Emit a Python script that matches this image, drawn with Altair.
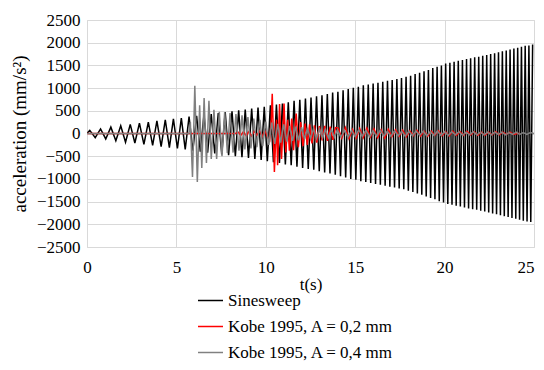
import altair as alt
import pandas as pd

# ---- Sinesweep: alternating peak times (s) and peak accelerations (mm/s^2)
sweep_t = [0.0,
 0.155, 0.460, 0.758, 1.049, 1.334, 1.613, 1.887, 2.155, 2.419, 2.677,
 2.932, 3.182, 3.429, 3.671, 3.910, 4.146, 4.378, 4.607, 4.833, 5.056,
 5.276, 5.493, 5.708, 5.920, 6.130, 6.337, 6.542, 6.745, 6.946, 7.145,
 7.342, 7.536, 7.729, 7.920, 8.110, 8.297, 8.483, 8.667, 8.850, 9.031,
 9.210, 9.388, 9.565, 9.740, 9.914, 10.086, 10.257, 10.427, 10.595, 10.763,
 10.929, 11.094, 11.258, 11.420, 11.582, 11.742, 11.902, 12.060, 12.217, 12.374,
 12.529, 12.683, 12.837, 12.989, 13.141, 13.292, 13.441, 13.590, 13.738, 13.886,
 14.032, 14.178, 14.323, 14.467, 14.610, 14.752, 14.894, 15.035, 15.176, 15.315,
 15.454, 15.592, 15.730, 15.867, 16.003, 16.138, 16.273, 16.407, 16.541, 16.674,
 16.806, 16.938, 17.069, 17.200, 17.330, 17.460, 17.589, 17.717, 17.845, 17.972,
 18.099, 18.225, 18.351, 18.476, 18.601, 18.725, 18.849, 18.972, 19.095, 19.217,
 19.338, 19.460, 19.581, 19.701, 19.821, 19.940, 20.059, 20.178, 20.296, 20.414,
 20.531, 20.648, 20.765, 20.881, 20.997, 21.112, 21.227, 21.341, 21.455, 21.569,
 21.682, 21.795, 21.908, 22.020, 22.132, 22.244, 22.355, 22.466, 22.576, 22.686,
 22.796, 22.905, 23.014, 23.123, 23.231, 23.339, 23.447, 23.554, 23.662, 23.768,
 23.875, 23.981, 24.087, 24.192, 24.298, 24.402, 24.507, 24.611, 24.715, 24.819,
 24.923]
sweep_a = [0,
 70, -90, 100, -120, 140, -160, 170, -190, 200, -210,
 230, -240, 250, -260, 280, -290, 300, -310, 320, -330,
 340, -350, 370, -380, 390, -400, 410, -420, 430, -440,
 450, -460, 470, -480, 490, -500, 510, -520, 530, -540,
 550, -560, 570, -580, 590, -610, 620, -630, 640, -650,
 660, -680, 690, -700, 720, -730, 740, -760, 770, -780,
 790, -800, 820, -830, 840, -860, 870, -880, 900, -910,
 920, -940, 950, -970, 980, -1000, 1010, -1020, 1030, -1050,
 1060, -1070, 1080, -1090, 1100, -1110, 1120, -1130, 1140, -1150,
 1160, -1170, 1180, -1190, 1200, -1210, 1220, -1230, 1250, -1260,
 1270, -1290, 1310, -1320, 1340, -1350, 1370, -1390, 1400, -1420,
 1440, -1450, 1470, -1490, 1500, -1520, 1540, -1550, 1560, -1570,
 1580, -1590, 1600, -1610, 1620, -1630, 1640, -1650, 1660, -1670,
 1680, -1680, 1690, -1700, 1710, -1720, 1730, -1740, 1750, -1760,
 1770, -1780, 1790, -1800, 1810, -1820, 1830, -1840, 1850, -1860,
 1870, -1880, 1890, -1900, 1910, -1920, 1930, -1940, 1940, -1950,
 1960]

# ---- Kobe 1995, A = 0,2 mm (red)
kobe02_t = [0.0, 8.30, 8.45, 8.60, 8.75, 8.90, 9.05, 9.20, 9.35, 9.50, 9.65, 9.80, 9.95, 10.10,
 10.22, 10.30, 10.36, 10.48, 10.60, 10.66, 10.77, 10.88, 11.02, 11.12, 11.22, 11.32,
 11.45, 11.55, 11.70, 11.82, 11.95, 12.08, 12.20, 12.32, 12.45, 12.58, 12.72, 12.85,
 13.00, 13.15, 13.30, 13.45, 13.60, 13.75, 13.90,
 14.05, 14.25, 14.45, 14.65, 14.85, 15.05, 15.25, 15.45, 15.65, 15.85,
 16.05, 16.25, 16.45, 16.65, 16.85, 17.05, 17.25, 17.45, 17.65, 17.85,
 18.05, 18.25, 18.45, 18.65, 18.85, 19.05, 19.25, 19.45, 19.65, 19.85,
 20.05, 20.25, 20.45, 20.65, 20.85, 21.05, 21.25, 21.45, 21.65, 21.85,
 22.05, 22.25, 22.45, 22.65, 22.85, 23.05, 23.25, 23.45, 23.65, 23.85,
 24.05, 24.20]
kobe02_a = [0, 0, 30, -40, 40, -50, 40, -60, 50, -40, 60, -70, 60, -80,
 -150, 250, 875, -850, 300, -700, 650, -560, 660, -420, 300, -380,
 330, -370, 440, -300, 250, -280, 220, -250, 200, -220, 180, -200,
 160, -150, 170, -160, 150, -140, 130,
 120, -100, 130, -110, 90, -100, 110, -90, 120, -80,
 100, -90, 80, -100, 90, -70, 80, -60, 70, -70,
 60, -50, 70, -60, 50, -60, 50, -40, 60, -50,
 40, -50, 50, -40, 40, -40, 50, -30, 40, -40,
 30, -40, 30, -30, 40, -30, 30, -20, 30, -20,
 0, 0]

# ---- Kobe 1995, A = 0,4 mm (grey)
kobe04_t = [0.0, 5.70, 5.78, 5.90, 6.03, 6.17, 6.30, 6.42, 6.55, 6.68, 6.82, 6.95,
 7.10, 7.25, 7.40, 7.55, 7.70, 7.85, 8.00, 8.17, 8.33, 8.50, 8.67, 8.83,
 9.00, 9.17, 9.33, 9.50, 9.67, 9.83, 10.00, 10.17, 10.33, 10.50, 10.67, 10.83,
 11.00, 11.17, 11.33, 11.50, 11.67, 11.83, 12.00, 12.17, 12.33, 12.50, 12.67, 12.83,
 13.00, 13.17, 13.33, 13.50, 13.67, 13.83, 14.00,
 14.20, 14.40, 14.60, 14.80, 15.00, 15.20, 15.40, 15.60, 15.80, 16.00,
 16.20, 16.40, 16.60, 16.80, 17.00, 17.20, 17.40, 17.60, 17.80, 18.00,
 18.20, 18.40, 18.60, 18.80, 19.00, 19.20, 19.40, 19.60, 19.80, 20.00,
 20.20, 20.40, 20.60, 20.80, 21.00, 21.20, 21.40, 21.60, 21.80, 22.00,
 22.20, 22.40, 22.60, 22.80, 23.00, 23.20, 23.40, 23.60, 23.80, 24.00,
 24.20, 24.40, 24.60, 24.80, 25.00]
kobe04_a = [0, 0, 250, -960, 1050, -1070, 620, -760, 780, -650, 720, -560,
 520, -560, 480, -500, 470, -430, 450, -420, 430, -380, 400, -350,
 360, -330, 330, -300, 300, -280, 260, -250, 240, -230, 210, -200,
 200, -180, 170, -160, 150, -150, 140, -130, 130, -120, 110, -110,
 100, -100, 90, -90, 90, -80, 80,
 -80, 70, -80, 70, -70, 80, -60, 70, -70, 60,
 -60, 70, -60, 50, -60, 60, -50, 50, -60, 50,
 -50, 50, -40, 50, -50, 40, -40, 50, -40, 40,
 -40, 40, -30, 40, -40, 30, -30, 40, -30, 30,
 -30, 30, -30, 30, -20, 30, -30, 20, -20, 30,
 -20, 20, -20, 20, 0]

names = ["Sinesweep", "Kobe 1995, A = 0,2 mm", "Kobe 1995, A = 0,4 mm"]
colors = ["#000000", "#ff0000", "#808080"]
x_ticks = [0, 5, 10, 15, 20, 25]
y_ticks = [-2500, -2000, -1500, -1000, -500, 0, 500, 1000, 1500, 2000, 2500]

d_sweep = pd.DataFrame({"t": sweep_t, "a": sweep_a, "s": names[0]})
d_k02 = pd.DataFrame({"t": kobe02_t, "a": kobe02_a, "s": names[1]})
d_k04 = pd.DataFrame({"t": kobe04_t, "a": kobe04_a, "s": names[2]})

FONT = "Liberation Serif, Times New Roman, serif"

x_enc = alt.X("t:Q", scale=alt.Scale(domain=[0, 25], nice=False),
              axis=alt.Axis(values=x_ticks, title="t(s)", format="d", labelFlush=False,
                            labelAlign={"condition": {"test": "datum.value == 25", "value": "right"},
                                        "value": "center"},
                            labelFont=FONT, labelFontSize=17, labelColor="#000000",
                            labelPadding=12, titlePadding=1,
                            titleFont=FONT, titleFontSize=17, titleFontWeight="normal",
                            titleColor="#000000"))
y_enc = alt.Y("a:Q", scale=alt.Scale(domain=[-2500, 2500], nice=False),
              axis=alt.Axis(values=y_ticks, title="acceleration (mm/s²)", format="d",
                            labelFlush=False,
                            labelFont=FONT, labelFontSize=17, labelColor="#000000",
                            labelPadding=7, titlePadding=7,
                            titleFont=FONT, titleFontSize=19, titleFontWeight="normal",
                            titleColor="#000000"))
c_enc = alt.Color("s:N", scale=alt.Scale(domain=names, range=colors),
                  legend=alt.Legend(title=None, orient="none", legendX=110, legendY=267,
                                    direction="vertical", symbolType="stroke",
                                    symbolSize=625, symbolStrokeWidth=1.5,
                                    rowPadding=4, labelOffset=4, labelLimit=400,
                                    labelFont=FONT, labelFontSize=17, labelColor="#000000"))

def layer(df):
    return alt.Chart(df).mark_line(strokeWidth=1.5, clip=True).encode(
        x=x_enc, y=y_enc, color=c_enc, detail="s:N")

chart = alt.layer(layer(d_sweep), layer(d_k02), layer(d_k04)).properties(
    width=447, height=227,
    autosize=alt.AutoSizeParams(type="none"),
    padding={"left": 79, "top": 12, "right": 2, "bottom": 117},
).configure_axis(
    grid=True, gridColor="#d9d9d9", gridWidth=1, domain=False, ticks=False,
    labelFont=FONT, titleFont=FONT,
).configure_legend(labelFont=FONT).configure_view(stroke="#d9d9d9")

chart.save("out.html", embed_options={"renderer": "svg", "actions": False})
